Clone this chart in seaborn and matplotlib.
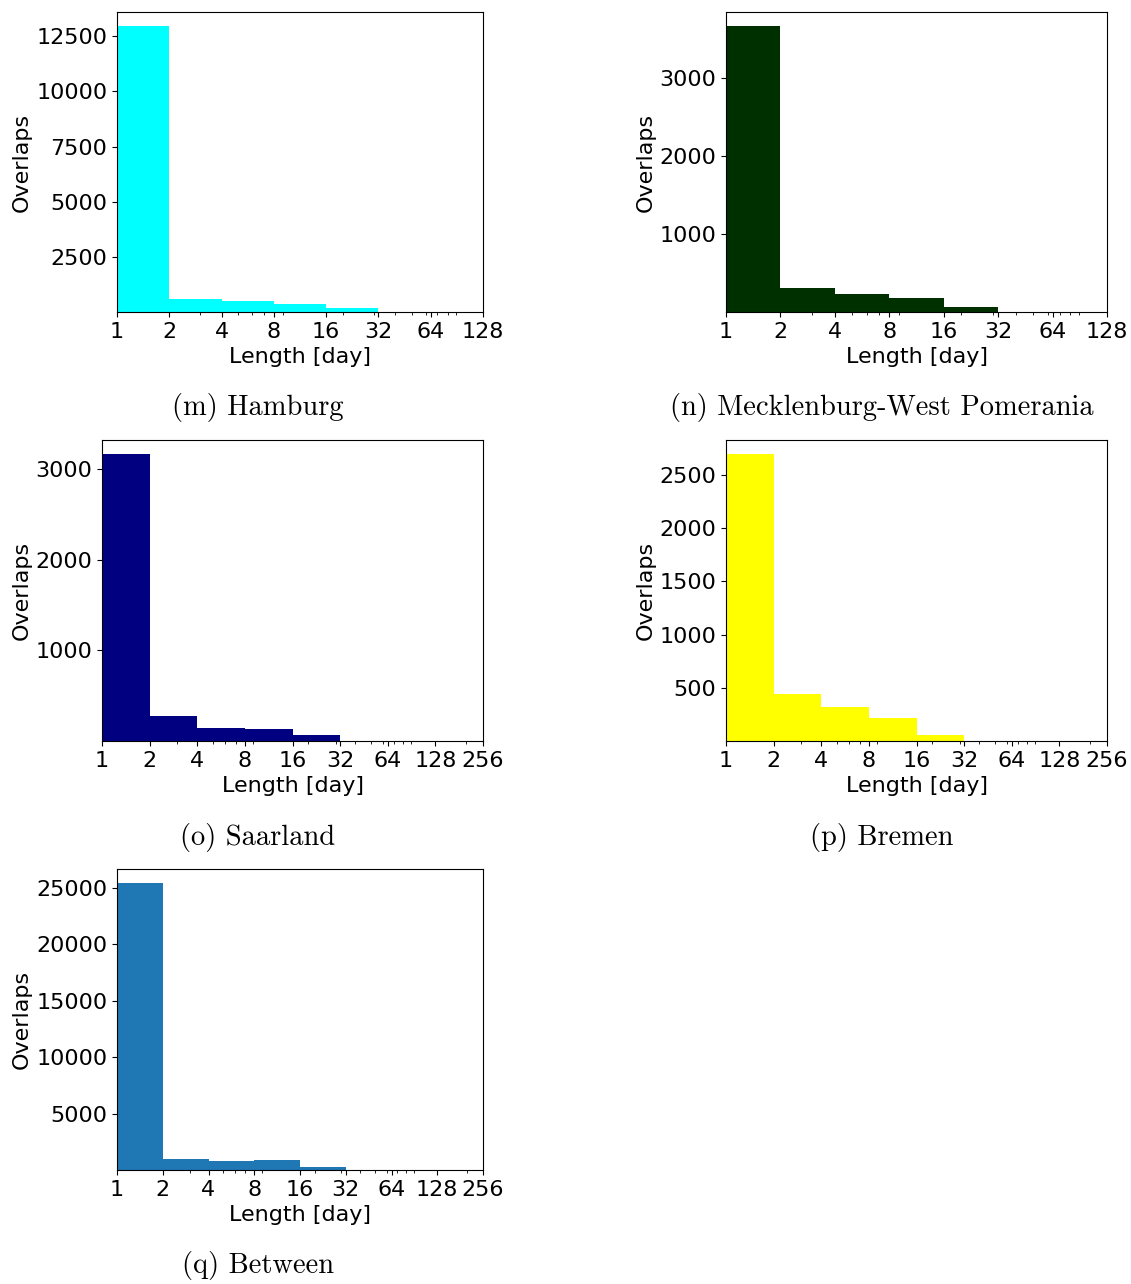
import matplotlib
matplotlib.use('Agg')
import matplotlib.pyplot as plt
import seaborn as sns
from matplotlib.ticker import NullFormatter

plt.rcParams['font.size'] = 16

# Bin edges (days) and counts
edges_128 = [1, 2, 4, 8, 16, 32, 64, 128]
edges_256 = [1, 2, 4, 8, 16, 32, 64, 128, 256]

hamburg = [12950, 590, 500, 364, 180, 15, 3]
mecklenburg = [3667, 308, 231, 180, 64, 4, 1]
saarland = [3160, 276, 144, 133, 66, 5, 2, 1]
bremen = [2690, 443, 321, 217, 57, 4, 2, 1]
between = [25420, 980, 800, 890, 267, 40, 10, 3]

yt_hamburg = [2500, 5000, 7500, 10000, 12500]
yt_mecklenburg = [1000, 2000, 3000]
yt_saarland = [1000, 2000, 3000]
yt_bremen = [500, 1000, 1500, 2000, 2500]
yt_between = [5000, 10000, 15000, 20000, 25000]

W, H = 1131, 1284
fig = plt.figure(figsize=(W / 100, H / 100), dpi=100)

panels = [
    # counts, edges, yticks, colour, (left, top, right, bottom) px, caption
    (hamburg, edges_128, yt_hamburg, '#00ffff', (117, 12, 483, 312), '(m) Hamburg'),
    (mecklenburg, edges_128, yt_mecklenburg, '#003000', (726, 12, 1107, 312), '(n) Mecklenburg-West Pomerania'),
    (saarland, edges_256, yt_saarland, '#000080', (102, 440, 483, 741), '(o) Saarland'),
    (bremen, edges_256, yt_bremen, '#ffff00', (726, 440, 1107, 741), '(p) Bremen'),
    (between, edges_256, yt_between, '#1f77b4', (117, 869, 483, 1170), '(q) Between'),
]

for counts, edges, yt, col, (l, t, r, b), cap in panels:
    ax = fig.add_axes([l / W, 1 - b / H, (r - l) / W, (b - t) / H])
    sns.histplot(x=edges[:-1], weights=counts, bins=edges, color=col,
                 alpha=1, linewidth=0, ax=ax)
    ax.set_xscale('log')
    ax.set_xlim(edges[0], edges[-1])
    ax.set_xticks(edges)
    ax.set_xticklabels([str(e) for e in edges])
    ax.xaxis.set_minor_formatter(NullFormatter())
    ax.set_ylim(bottom=1)
    ax.set_yticks(yt)
    ax.set_xlabel('Length [day]')
    ax.set_ylabel('Overlaps')
    # y labels sit at a fixed place in each sub-figure
    left_col = l < 600
    lab_x = 32 if left_col else 656
    ax.yaxis.set_label_coords(lab_x / W, 1 - (t + b) / 2 / H, transform=fig.transFigure)
    cap_x = 258 if left_col else 882
    fig.text(cap_x / W, 1 - (b + 96) / H, cap,
             ha='center', va='center', fontfamily='cmr10', fontsize=20.5)

plt.savefig('out.png', dpi=100)
